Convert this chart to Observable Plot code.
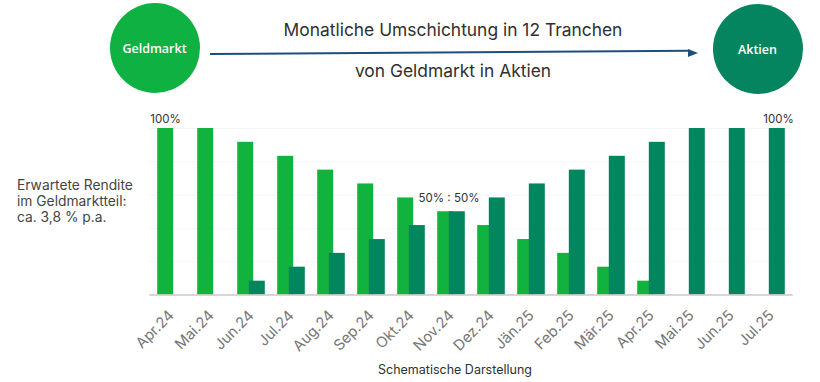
<!DOCTYPE html>
<html><head><meta charset="utf-8">
<script src="https://cdn.jsdelivr.net/npm/d3@7"></script>
<script src="https://cdn.jsdelivr.net/npm/@observablehq/plot@0.6"></script>
<style>
body{margin:0;background:#fff;}
#root{position:relative;width:820px;height:382px;overflow:hidden;font-family:Inter,"Noto Sans",sans-serif;}
.circle{position:absolute;width:90px;height:90px;border-radius:50%;color:#fff;display:flex;align-items:center;justify-content:center;font-family:"Open Sans",sans-serif;font-weight:600;font-size:12.5px;}
.t{position:absolute;text-align:center;color:#303030;white-space:nowrap;}
#arrow{position:absolute;left:210px;top:52.5px;width:480px;height:2px;background:#1f4e79;transform-origin:0 50%;transform:rotate(-0.39deg);}
#head{position:absolute;left:688px;top:48.5px;width:0;height:0;border-top:4px solid transparent;border-bottom:4px solid transparent;border-left:10px solid #1f4e79;}
#side{position:absolute;left:17px;top:177px;font-size:13.8px;line-height:16px;color:#444;}
#chart{position:absolute;left:0;top:100px;}
</style></head>
<body><div id="root">
<div class="circle" style="left:109.5px;top:3px;background:#10b143;">Geldmarkt</div>
<div class="circle" style="left:712.5px;top:4px;background:#05855f;">Aktien</div>
<div class="t" style="left:153px;width:600px;top:19px;font-size:17.4px;">Monatliche Umschichtung in 12 Tranchen</div>
<div id="arrow"></div><div id="head"></div>
<div class="t" style="left:153px;width:600px;top:60px;font-size:17.4px;">von Geldmarkt in Aktien</div>
<div id="side">Erwartete Rendite<br>im Geldmarktteil:<br>ca. 3,8 % p.a.</div>
<div id="chart"></div>
<div class="t" style="left:255px;width:400px;top:362px;font-size:12.5px;">Schematische Darstellung</div>
</div>
<script>
const months = ["Apr.24","Mai.24","Jun.24","Jul.24","Aug.24","Sep.24","Okt.24","Nov.24","Dez.24","Jän.25","Feb.25","Mär.25","Apr.25","Mai.25","Jun.25","Jul.25"];
const geldmarkt = [100,100,91.7,83.3,75,66.7,58.3,50,41.7,33.3,25,16.7,8.3,0,0,0];
const aktien = [0,0,8.3,16.7,25,33.3,41.7,50,58.3,66.7,75,83.3,91.7,100,100,100];
const gridTicks = [20,40,60,80,100];

const gmData = months.map((m,i)=>({month:m, value:geldmarkt[i]})).filter(d=>d.value>0);
const akData = months.map((m,i)=>({month:m, value:aktien[i]})).filter(d=>d.value>0);
const labelStart = [{month:months[0], value:geldmarkt[0], text:"100%"}];
const labelMid = [{month:months[7], value:geldmarkt[7], text:"50% : 50%"}];
const labelEnd = [{month:months[15], value:aktien[15], text:"100%"}];

const plot = Plot.plot({
  width: 820,
  height: 282,
  marginTop: 28,
  marginBottom: 87.5,
  marginLeft: 149.5,
  marginRight: 27.3,
  style: {fontFamily: "Inter, sans-serif", background: "transparent"},
  x: {type: "band", domain: months, range: [149.5, 792.7], paddingInner: 0.61, paddingOuter: 0.305, align: 0.5, label: null},
  y: {domain: [0, 100], axis: null},
  marks: [
    Plot.gridY(gridTicks, {stroke: "#000", strokeOpacity: 0.04}),
    Plot.barY(gmData, {x: "month", y: "value", fill: "#12b23f", dx: -5.8, inset: 0}),
    Plot.barY(akData, {x: "month", y: "value", fill: "#03865e", dx: 5.8, inset: 0}),
    Plot.ruleY([0], {stroke: "#c8c8c8", strokeWidth: 1.5}),
    Plot.axisX({tickRotate: -45, tickSize: 0, tickPadding: 6, dy: 12, dx: 0, fontSize: 14.8, fill: "#767676", label: null}),
    Plot.text(labelStart, {x: "month", y: "value", text: "text", dx: -6, dy: -9, fontSize: 11.5, fill: "#333"}),
    Plot.text(labelMid, {x: "month", y: "value", text: "text", dx: -2.5, dy: -13, fontSize: 11.5, fill: "#333"}),
    Plot.text(labelEnd, {x: "month", y: "value", text: "text", dx: 7, dy: -9, fontSize: 11.5, fill: "#333"})
  ]
});
document.getElementById("chart").appendChild(plot);
</script>
</body></html>
